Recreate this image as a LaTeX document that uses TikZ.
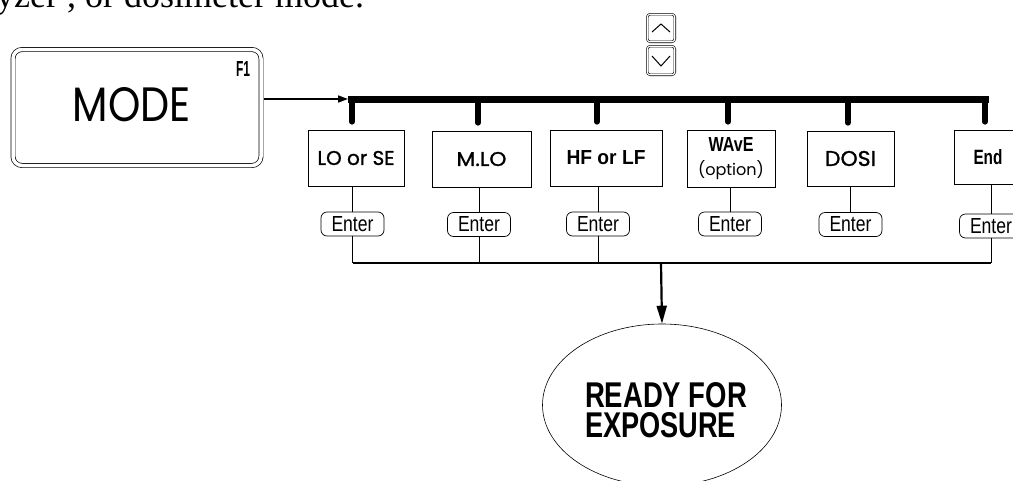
\documentclass[tikz,border=0pt]{standalone}
\usepackage{fontspec}
\setmainfont{Liberation Serif}
\newfontfamily\geofont{Poppins}
\newfontfamily\geoheavy[FakeBold=1.2]{Poppins}
\newfontfamily\swissfont{Liberation Sans}
\usetikzlibrary{arrows.meta,shapes.geometric}
\newcommand{\fitbox}[3]{\resizebox{#1pt}{#2pt}{#3}}
\begin{document}
\begin{tikzpicture}[x=1pt,y=-1pt,
  optbox/.style={draw, line width=0.7pt, inner sep=0pt, align=center},
  enterkey/.style={draw, line width=0.7pt, rounded corners=6pt, minimum width=63pt, minimum height=24pt, inner sep=0pt, font=\swissfont},
  busline/.style={line width=7pt},
  dropline/.style={line width=6pt, line cap=round},
  wire/.style={line width=0.7pt},
  lowbus/.style={line width=2.5pt},
  modebox/.style={draw, double, double distance=3.5pt, line width=0.7pt, rounded corners=9pt, minimum width=248pt, minimum height=116pt, inner sep=0pt},
  keybox/.style={draw, double, double distance=1.2pt, line width=0.6pt, rounded corners=3pt, minimum width=27.6pt, minimum height=27.6pt, inner sep=0pt},
  chevron/.style={line width=1pt}
]
\useasboundingbox (0,0) rectangle (1013,480);

% clipped top text line
\node[anchor=base west, inner sep=0pt, font=\fontsize{36}{36}\selectfont] (toptext) at (-4,7.5) {yzer , or dosimeter mode.};

% MODE key
\node[modebox] (mode) at (137,107.5) {};
\node[inner sep=0pt, font=\geofont] (modetxt) at (132,105) {\fitbox{118}{34}{MODE}};
\node[inner sep=0pt, font=\swissfont\bfseries] (f1) at (243,68.5) {\fitbox{14}{15}{F1}};

% arrow keys
\node[keybox] (up) at (661,28) {};
\node[keybox, minimum height=28.6pt] (down) at (661,60.5) {};
\draw[chevron] ([shift={(-9,4)}]up.center) -- ([shift={(0,-4)}]up.center) -- ([shift={(9,4)}]up.center);
\draw[chevron] ([shift={(-9,-4.5)}]down.center) -- ([shift={(0,5.5)}]down.center) -- ([shift={(9,-4.5)}]down.center);

% option boxes
\node[optbox, minimum width=96pt, minimum height=56pt] (b1) at (356,158) {\geoheavy\fitbox{77}{14}{LO or SE}};
\node[optbox, minimum width=99pt, minimum height=56pt] (b2) at (481.5,159) {\geoheavy\fitbox{50}{14}{M.LO}};
\node[optbox, minimum width=112pt, minimum height=56pt] (b3) at (606,158) {\swissfont\bfseries\fitbox{79}{14}{HF or LF}};
\node[optbox, minimum width=88pt, minimum height=57pt, font=\fontsize{10}{23.5}\selectfont] (b4) at (731,158.5) {{\swissfont\bfseries\fitbox{45}{14}{WAvE}}\\{\geofont\fitbox{66}{15}{(option)}}};
\node[optbox, minimum width=87pt, minimum height=55pt] (b5) at (850.5,158.5) {\geoheavy\fitbox{51}{15}{DOSI}};
\node[optbox, minimum width=68pt, minimum height=54pt] (b6) at (988,157) {\swissfont\bfseries\fitbox{29}{15}{End}};

% Enter keys
\node[enterkey] (e1) at (352.5,224) {\fitbox{42}{15}{Enter}};
\node[enterkey] (e2) at (479,224.5) {\fitbox{42}{15}{Enter}};
\node[enterkey] (e3) at (598,224) {\fitbox{42}{15}{Enter}};
\node[enterkey] (e4) at (730,224) {\fitbox{42}{15}{Enter}};
\node[enterkey] (e5) at (850.5,224.5) {\fitbox{42}{15}{Enter}};
\node[enterkey] (e6) at (991,226) {\fitbox{42}{15}{Enter}};

% ready ellipse
\node[draw, ellipse, line width=0.6pt, minimum width=239pt, minimum height=162pt, inner sep=0pt] (ready) at (662,405) {};
\node[align=left, inner sep=0pt, font=\swissfont\bfseries\fontsize{20}{30}\selectfont] (readytxt) at (666,410.5) {\fitbox{162}{25}{READY FOR}\\\fitbox{151}{25}{EXPOSURE}};

% top bus
\coordinate (t0) at (348,99);
\coordinate (tR) at (988.5,99);
\coordinate (t1) at (352,99);
\coordinate (t2) at (478,99);
\coordinate (t3) at (597,99);
\coordinate (t4) at (728,99);
\coordinate (t5) at (848,99);
\coordinate (t6) at (985,99);
\draw[busline] (t0) -- (tR);
\foreach \i in {1,...,6} {
  \draw[dropline] (t\i) -- ([yshift=8pt]t\i |- b\i.north);
}
\draw[line width=1.6pt, -{Triangle[length=10pt,width=7pt]}] ([xshift=2.5pt]mode.east |- t0) -- (t0);

% box to Enter wires
\foreach \i in {1,...,6} {
  \draw[wire] (b\i.south -| e\i) -- (e\i.north);
}

% bottom bus
\coordinate (bb) at (661,263);
\foreach \i in {1,2,3,6} {
  \draw[wire] (e\i.south) -- (e\i.south |- bb);
}
\draw[lowbus] (e1.south |- bb) -- (e6.south |- bb);
\draw[line width=2.2pt, -{Triangle[length=18pt,width=10pt]}] (bb) -- (ready.north);
\end{tikzpicture}
\end{document}
